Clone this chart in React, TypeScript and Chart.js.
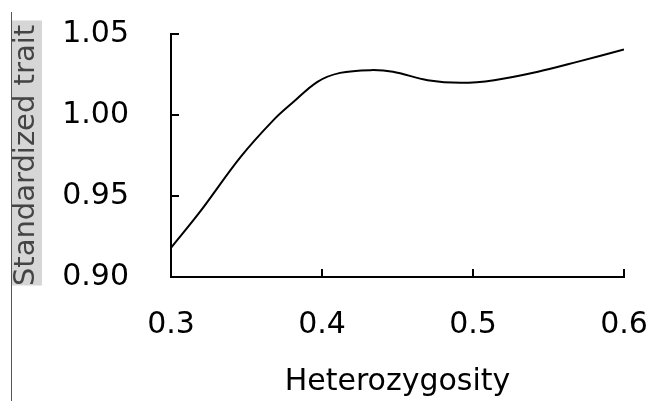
import React, { useEffect, useRef } from "react";
import { Chart, registerables } from "chart.js";

Chart.register(...registerables);

const heterozygosity = [0.30, 0.319, 0.346, 0.368, 0.381, 0.397, 0.412, 0.432, 0.447, 0.47, 0.492, 0.514, 0.543, 0.569, 0.60];
const trait = [0.918, 0.940, 0.974, 0.997, 1.008, 1.0205, 1.026, 1.0277, 1.0267, 1.0215, 1.0199, 1.0215, 1.0267, 1.0328, 1.0405];
const xTicks = [0.3, 0.4, 0.5, 0.6];
const yTicks = [0.9, 0.95, 1.0, 1.05];
const xTitle = "Heterozygosity";
const yTitle = "Standardized trait";

const FONT = "'DejaVu Sans', sans-serif";

const decorPlugin = {
  id: "decor",
  beforeDraw(chart: any) {
    const ctx = chart.ctx;
    const y = chart.scales.y;
    ctx.save();
    ctx.strokeStyle = "#555";
    ctx.lineWidth = 1;
    ctx.beginPath();
    ctx.moveTo(11.5, 12);
    ctx.lineTo(11.5, chart.height);
    ctx.stroke();
    ctx.fillStyle = "#d6d6d6";
    const cy = (y.top + y.bottom) / 2;
    ctx.fillRect(12, cy - 135, 30, 265);
    ctx.restore();
  },
  afterDraw(chart: any) {
    const ctx = chart.ctx;
    const { x, y } = chart.scales;
    const area = chart.chartArea;
    ctx.save();
    ctx.strokeStyle = "#000";
    ctx.lineWidth = 2;
    ctx.beginPath();
    xTicks.forEach((v) => {
      const px = Math.round(x.getPixelForValue(v));
      ctx.moveTo(px, area.bottom);
      ctx.lineTo(px, area.bottom - 8);
    });
    yTicks.forEach((v) => {
      const py = Math.round(y.getPixelForValue(v));
      ctx.moveTo(area.left, py);
      ctx.lineTo(area.left + 8, py);
    });
    ctx.stroke();
    ctx.restore();
  },
};

export default function App() {
  const ref = useRef<HTMLCanvasElement | null>(null);
  useEffect(() => {
    document.body.style.margin = "0";
    const points = heterozygosity.map((x, i) => ({ x, y: trait[i] }));
    const chart = new Chart(ref.current as HTMLCanvasElement, {
      type: "scatter",
      data: {
        datasets: [
          {
            data: points,
            showLine: true,
            borderColor: "#000",
            borderWidth: 2,
            pointRadius: 0,
            tension: 0.35,
            fill: false,
          },
        ],
      },
      plugins: [decorPlugin],
      options: {
        animation: false,
        responsive: false,
        events: [],
        layout: { padding: { top: 34, right: 24, left: 0, bottom: 0 } },
        plugins: { legend: { display: false }, tooltip: { enabled: false } },
        scales: {
          x: {
            type: "linear",
            min: xTicks[0],
            max: xTicks[xTicks.length - 1],
            afterBuildTicks: (s: any) => {
              s.ticks = xTicks.map((v) => ({ value: v }));
            },
            afterFit: (s: any) => {
              s.height = 124;
              s.paddingLeft = 0;
              s.paddingRight = 0;
            },
            border: { display: true, color: "#000", width: 2 },
            grid: { display: true, drawOnChartArea: false, drawTicks: false },
            ticks: {
              padding: 30,
              color: "#000",
              font: { family: FONT, size: 30 },
              callback: (v: any) => Number(v).toFixed(1),
            },
            title: {
              display: true,
              text: xTitle,
              color: "#000",
              font: { family: FONT, size: 30 },
              padding: { top: 20, bottom: 1 },
            },
          },
          y: {
            type: "linear",
            min: yTicks[0],
            max: yTicks[yTicks.length - 1],
            afterBuildTicks: (s: any) => {
              s.ticks = yTicks.map((v) => ({ value: v }));
            },
            afterFit: (s: any) => {
              s.width = 171;
              s.paddingTop = 0;
              s.paddingBottom = 0;
            },
            border: { display: true, color: "#000", width: 2 },
            grid: { display: true, drawOnChartArea: false, drawTicks: false },
            ticks: {
              padding: 42,
              color: "#000",
              font: { family: FONT, size: 30 },
              callback: (v: any) => Number(v).toFixed(2),
            },
            title: {
              display: true,
              text: yTitle,
              color: "#444",
              font: { family: FONT, size: 29 },
              padding: { top: 9, bottom: 0 },
            },
          },
        },
      },
    });
    return () => chart.destroy();
  }, []);
  return (
    <div style={{ width: 648, height: 401, background: "#fff" }}>
      <canvas ref={ref} width={648} height={401} style={{ display: "block" }} />
    </div>
  );
}
